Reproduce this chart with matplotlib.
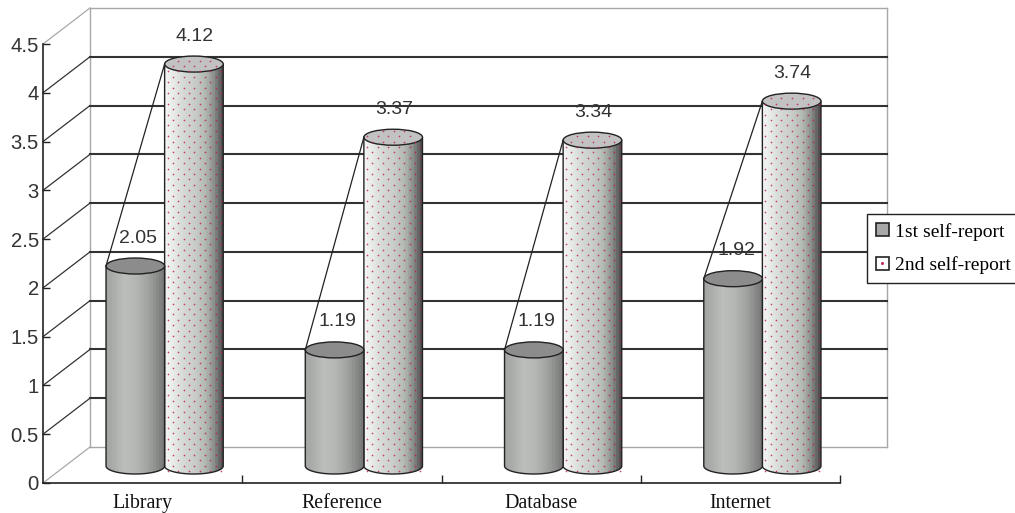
import numpy as np
import matplotlib
matplotlib.use("Agg")
import matplotlib.pyplot as plt
from matplotlib.patches import Ellipse, PathPatch, Patch
from matplotlib.path import Path
from matplotlib.lines import Line2D

categories = ["Library", "Reference", "Database", "Internet"]
first_report = [2.05, 1.19, 1.19, 1.92]
second_report = [4.12, 3.37, 3.34, 3.74]
series_names = ["1st self-report", "2nd self-report"]
y_ticks = [0, 0.5, 1, 1.5, 2, 2.5, 3, 3.5, 4, 4.5]
y_tick_labels = ["0", "0.5", "1", "1.5", "2", "2.5", "3", "3.5", "4", "4.5"]

W, H = 1015, 513
fig = plt.figure(figsize=(W / 100, H / 100), dpi=100, facecolor="white")
L, R, B, T = 43, 840, 483, 44
ax = fig.add_axes([L / W, 1 - B / H, (R - L) / W, (B - T) / H])
ax.set_xlim(0, 4)
ax.set_ylim(0, 4.5)
ax.patch.set_alpha(0)
for s in ("top", "right"):
    ax.spines[s].set_visible(False)
for s in ("left", "bottom"):
    ax.spines[s].set_color("#222222")
    ax.spines[s].set_linewidth(1.2)

px = (R - L) / 4      # pixels per category
py = (B - T) / 4.5    # pixels per value unit
X = lambda p: p / px
Y = lambda p: p / py

SANS = "Liberation Sans"
SERIF = "Liberation Serif"

ax.set_yticks(y_ticks, y_tick_labels, family=SANS, fontsize=14.6, color="#333333")
ax.tick_params(axis="y", direction="in", length=5, width=1, pad=3, color="#222222")
ax.set_xticks([1, 2, 3, 4], [""] * 4)
ax.set_xticks([0.5, 1.5, 2.5, 3.5], categories, minor=True, family=SERIF, fontsize=14.4, color="#111111")
ax.tick_params(axis="x", which="major", direction="in", length=6, width=1, color="#222222")
ax.tick_params(axis="x", which="minor", length=0, pad=8)

# 3-D wall
dx, dy = X(47), Y(36)
gray, dark = "#a8a8a8", "#333333"
for v in y_ticks:
    c, lw, z = (gray, 1.0, 1) if v in (0, 4.5) else (dark, 1.5, 1.5)
    ax.plot([0, dx], [v, v + dy], color=c, lw=0.9, zorder=z, clip_on=False)
    ax.plot([dx, 4 + dx], [v + dy, v + dy], color=c, lw=lw, zorder=z, clip_on=False)
for xv in (dx, 4 + dx):
    ax.plot([xv, xv], [dy, 4.5 + dy], color=gray, lw=1.0, zorder=1.2, clip_on=False)

# cylinders
cdx, cdy = X(22), Y(17)
half, ry = X(29.3), Y(8)
stops = [0, .12, .3, .5, .7, .85, 1]
ramp1 = ["#a4a6a4", "#acaeac", "#bcbebc", "#b6b8b6", "#a4a6a4", "#909290", "#787878"]
ramp2 = ["#f2f4f2", "#e8ece8", "#d6dad6", "#cacecA", "#b2b8b2", "#8c908c", "#505050"]
BANDS = 20


def cylinder(center, value, ramp, cap, dots, z):
    x0, x1 = center - half, center + half
    y0, y1 = cdy, value + cdy
    t = np.linspace(0, np.pi, 40)
    xs = np.r_[x0, center - half * np.cos(t), x1, x0]
    ys = np.r_[y1, y0 - ry * np.sin(t), y1, y1]
    body = Path(np.c_[xs, ys], closed=True)
    u = (np.floor(np.linspace(0, 1, 256) * BANDS) / (BANDS - 1)).clip(0, 1)
    rgb = np.array([matplotlib.colors.to_rgb(c) for c in ramp])
    grad = np.stack([np.interp(u, stops, rgb[:, i]) for i in range(3)], axis=-1)[None, :, :]
    im = ax.imshow(grad, extent=(x0, x1, y0 - ry, y1), aspect="auto", zorder=z, interpolation="bilinear")
    patch = PathPatch(body, transform=ax.transData, fc="none", ec="none")
    ax.add_patch(patch)
    im.set_clip_path(patch)
    ax.add_patch(PathPatch(body, fc="none", ec="#222222", lw=1.0, zorder=z + 0.3, clip_on=False))
    ax.add_patch(Ellipse((center, y1), 2 * half, 2 * ry, fc=cap, ec="#222222", lw=1.0,
                         zorder=z + 0.4, clip_on=False))
    if dots:
        gx, gy = [], []
        n_rows = int((y1 - y0 + ry) / Y(5.4)) + 3
        for r in range(n_rows):
            yy = y0 - ry + Y(3) + r * Y(5.4)
            for c in np.arange(0, 6):
                xx = x0 + X(3 + c * 10.7 + (5.3 if r % 2 else 0))
                if xx < x1 - X(1):
                    gx.append(xx)
                    gy.append(yy)
        gx, gy = np.array(gx), np.array(gy)
        ell = ((gx - center) / half) ** 2 + ((gy - y1) / ry) ** 2
        keep = (gy < y1) | (ell < 0.85)
        ax.scatter(gx[keep], gy[keep], s=1.5, color="#c2185b", alpha=0.8, lw=0, zorder=z + 0.5, clip_on=False)


centers = np.arange(4) + 0.5 + cdx
ax.set_autoscale_on(False)
for i, c in enumerate(centers):
    a, b = c - half, c + half
    cylinder(b, second_report[i], ramp2, "#c2c2c2", True, 3)
    cylinder(a, first_report[i], ramp1, "#8c8c8c", False, 4)
    ax.plot([a - half, c], [first_report[i] + cdy, second_report[i] + cdy], color="#222222", lw=0.9,
            zorder=5, clip_on=False)
    ax.annotate(f"{first_report[i]:.2f}", (a, first_report[i] + cdy), xytext=(3, 28), textcoords="offset pixels",
                ha="center", va="center", family=SANS, fontsize=14, color="#333333", zorder=6)
    ax.annotate(f"{second_report[i]:.2f}", (b, second_report[i] + cdy), xytext=(1, 28), textcoords="offset pixels",
                ha="center", va="center", family=SANS, fontsize=14, color="#333333", zorder=6)

handles = [Patch(fc="#a8a8a8", ec="#222222", lw=1.2),
           (Patch(fc="white", ec="#222222", lw=1.2),
            Line2D([], [], ls="", marker="s", ms=1.0, color="#c2185b"))]
leg = fig.legend(handles, series_names, loc="upper left",
                 bbox_to_anchor=(867 / W, 1 - 214 / H), bbox_transform=fig.transFigure,
                 borderaxespad=0, prop={"family": SERIF, "size": 14},
                 frameon=True, fancybox=False, edgecolor="#222222", facecolor="white", framealpha=1,
                 handlelength=0.68, handleheight=0.68, handletextpad=0.3, labelspacing=0.8,
                 borderpad=0.45, numpoints=1)
leg.get_frame().set_linewidth(1.0)
leg.set_zorder(10)

fig.savefig("out.png", dpi=100, facecolor="white")
